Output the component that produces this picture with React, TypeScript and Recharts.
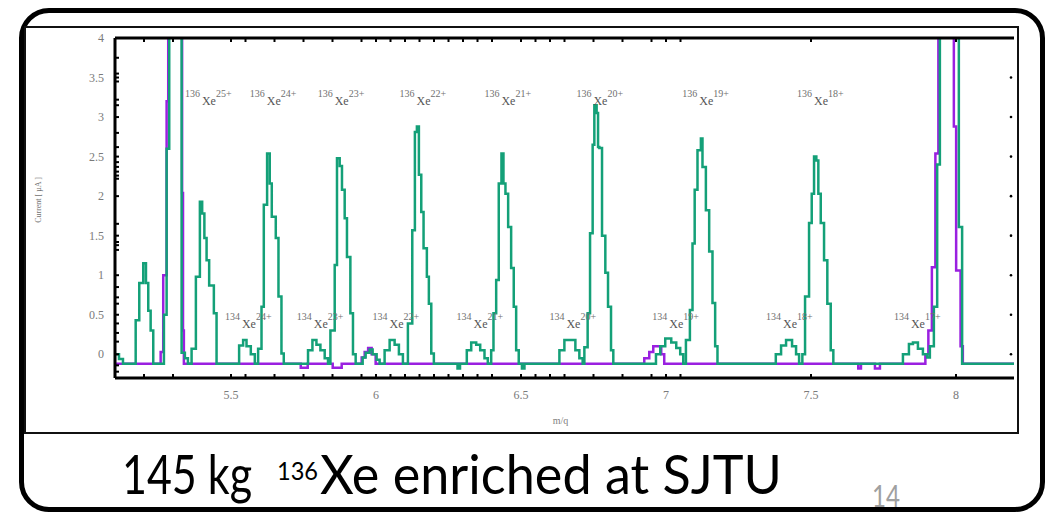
import { LineChart, Line, XAxis, YAxis, ReferenceDot } from 'recharts';

// green trace: m/q and beam current [uA] (step data, value holds until next m/q)
const greenMq = [
  5.1, 5.1138, 5.1275, 5.1713, 5.1837, 5.1975, 5.2068, 5.2147, 5.2229, 5.2319,
  5.2687, 5.278, 5.287, 5.3297, 5.341, 5.3514,
  5.3641, 5.3789, 5.3927, 5.4006, 5.4082, 5.4158, 5.4247, 5.4409, 5.4502,
  5.528, 5.5418, 5.5535, 5.5683, 5.5821,
  5.5935, 5.6052, 5.6131, 5.6245, 5.6337, 5.6406, 5.6544, 5.6637, 5.674, 5.682,
  5.7656, 5.7808, 5.7946, 5.8083, 5.8231, 5.8345,
  5.8428, 5.8576, 5.8655, 5.8748, 5.8827, 5.892, 5.8999, 5.9116, 5.9206, 5.9299,
  5.954, 5.9643, 5.9781, 5.9884, 6.0022, 6.0125,
  6.0297, 6.047, 6.0642, 6.079, 6.0928,
  6.11, 6.1251, 6.1341, 6.141, 6.1479, 6.1561, 6.164, 6.1754, 6.1823, 6.1906, 6.1995,
  6.2811, 6.2897,
  6.3131, 6.3283, 6.3455, 6.3593, 6.3741, 6.3855,
  6.3972, 6.4051, 6.4144, 6.4233, 6.4326, 6.4395, 6.4464, 6.4557, 6.466, 6.475, 6.4833, 6.4922,
  6.5033, 6.5119,
  6.6324, 6.6496, 6.6727, 6.6875, 6.7012, 6.7126,
  6.7185, 6.7298, 6.7381, 6.7471, 6.7529, 6.7608, 6.7657, 6.7702, 6.7794, 6.7908, 6.8001, 6.8104, 6.8183,
  6.9654, 6.9802, 6.9974, 7.0181, 7.0353, 7.049, 7.0594,
  7.0687, 7.0824, 7.0914, 7.0989, 7.1086, 7.1203, 7.1258, 7.1375, 7.1489, 7.1603, 7.1695, 7.1775,
  7.3786, 7.3968, 7.414, 7.4347, 7.4485, 7.4589,
  7.4702, 7.4795, 7.4933, 7.5025, 7.5105, 7.5184, 7.5253, 7.5336, 7.545, 7.5563, 7.568, 7.577,
  7.817, 7.8377, 7.8515, 7.8687, 7.8859, 7.9006,
  7.9099, 7.9237, 7.9351, 7.9444, 8.0098, 8.0211, 8.2,
];
const greenCurrent = [
  0.0, -0.06, -0.12, 0.43, 0.9, 1.15, 0.9, 0.55, 0.3, -0.12,
  0.5, 2.6, 5, 0.02, -0.05, -0.12,
  0.07, 0.98, 1.93, 1.78, 1.47, 1.19, 0.87, 0.52, -0.12,
  0.11, 0.18, 0.1, 0.0, -0.12,
  0.07, 0.6, 1.89, 2.54, 2.16, 1.74, 1.47, 0.73, 0.01, -0.12,
  0.05, 0.18, 0.12, 0.05, -0.05, -0.12,
  0.3, 1.13, 2.48, 2.38, 2.08, 1.72, 1.23, 0.52, 0.0, -0.12,
  -0.04, 0.02, 0.06, 0.0, -0.07, -0.12,
  0.05, 0.18, 0.12, 0.0, -0.12,
  0.39, 1.57, 2.81, 2.88, 2.27, 1.8, 1.34, 0.98, 0.64, 0.01, -0.12,
  -0.18, -0.12,
  0.05, 0.15, 0.12, 0.05, -0.05, -0.12,
  0.05, 0.52, 0.94, 2.16, 2.54, 2.16, 2.03, 1.61, 1.09, 0.6, 0.05, -0.12,
  -0.18, -0.12,
  0.05, 0.18, 0.18, 0.05, -0.05, -0.12,
  0.09, 0.52, 1.53, 2.65, 3.15, 3.05, 2.62, 2.61, 1.5, 1.03, 0.6, 0.05, -0.12,
  0.0, 0.1, 0.2, 0.15, 0.08, 0.0, -0.12,
  0.18, 0.56, 1.4, 2.08, 2.58, 2.73, 2.37, 1.82, 1.3, 0.65, 0.1, -0.12,
  0.0, 0.11, 0.18, 0.1, 0.0, -0.12,
  0.0, 0.73, 1.66, 2.03, 2.5, 2.45, 2.03, 1.66, 1.19, 0.64, 0.05, -0.12,
  0.0, 0.13, 0.15, 0.07, 0.0, -0.04,
  0.1, 0.6, 2.4, 5, 1.61, -0.12, -0.12,
];

// violet trace
const violetMq = [
  5.1, 5.2574, 5.2663, 5.278, 5.2835, 5.3314, 5.3345, 5.3375,
  5.7405, 5.7646, 5.8507, 5.8817,
  5.9506, 5.9609, 5.9729, 5.985, 5.9988,
  6.9251, 6.9423, 6.9561, 6.9733, 6.9836, 6.9939,
  7.663, 7.6723, 7.7205, 7.7377,
  7.8944, 7.9047, 7.9168, 7.9289, 7.9392, 7.9926, 8.0005, 8.0157, 8.0236, 8.2,
];
const violetCurrent = [
  -0.12, 0.03, 1.0, 3.2, 5, 2.04, 0.3, -0.12,
  -0.17, -0.12, -0.17, -0.12,
  -0.04, 0.03, 0.08, 0.0, -0.12,
  -0.05, 0.03, 0.1, 0.1, 0.0, -0.12,
  -0.18, -0.12, -0.18, -0.12,
  0.0, 0.3, 1.1, 2.54, 5, 2.88, 1.06, 0.1, -0.12, -0.12,
];

// isotope / charge-state annotations
const xe136LabelMq = [5.341, 5.565, 5.799, 6.081, 6.374, 6.691, 7.056, 7.452];
const xe136Charges = [25, 24, 23, 22, 21, 20, 19, 18];
const xe134LabelMq = [5.479, 5.727, 5.988, 6.278, 6.598, 6.953, 7.345, 7.786];
const xe134Charges = [24, 23, 22, 21, 20, 19, 18, 17];

const xMajorTicks = [5.5, 6, 6.5, 7, 7.5, 8];
const xMinorTicks = [
  5.2, 5.3, 5.55, 5.65, 5.75, 5.85, 5.95, 6.05, 6.1, 6.15, 6.2, 6.25, 6.3, 6.35,
  6.4, 6.55, 6.6, 6.65, 6.75, 6.85, 6.95, 7.05,
];
const yMajorTicks = [0, 0.5, 1, 1.5, 2, 2.5, 3, 3.5, 4];
const yMinorTicks = [
  3.75, 3.55, 3.45, 3.22, 3.15, 2.8, 2.62, 2.43, 2.37, 2.31, 2.26, 2.22, 1.65,
  1.42, 1.38, 1.32, 0.85, 0.72, 0.64, 0.39, 0.27, 0.16, -0.14, -0.22,
];

const greenData = greenMq.map((mq, i) => ({ mq, current: greenCurrent[i] }));
const violetData = violetMq.map((mq, i) => ({ mq, current: violetCurrent[i] }));

const GREEN = '#14a078';
const VIOLET = '#9a20e0';
const TICK_FONT = '"Liberation Serif", "DejaVu Serif", serif';
const CAPTION_FONT = "Lato, 'Open Sans', sans-serif";

const isMajor = (list: number[], v: number) => list.some((m) => Math.abs(m - v) < 1e-9);

const BottomTick = ({ x, y, payload }: any) => (
  <g>
    <line x1={x} y1={y} x2={x} y2={y - 4} stroke="#000" strokeWidth={2} />
    {isMajor(xMajorTicks, payload.value) && (
      <text x={x} y={y + 21} textAnchor="middle" fontSize={12} fill="#7a7a7a" fontFamily={TICK_FONT}>
        {payload.value}
      </text>
    )}
  </g>
);

const TopTick = ({ x, y }: any) => (
  <line x1={x} y1={y} x2={x} y2={y + 4} stroke="#000" strokeWidth={2} />
);

const LeftTick = ({ x, y, payload }: any) => (
  <g>
    <line x1={x} y1={y} x2={x + 4} y2={y} stroke="#000" strokeWidth={2} />
    {isMajor(yMajorTicks, payload.value) && (
      <text x={x - 11} y={y + 4} textAnchor="end" fontSize={12} fill="#7a7a7a" fontFamily={TICK_FONT}>
        {payload.value}
      </text>
    )}
  </g>
);

const RightTick = ({ x, y }: any) => <circle cx={x - 3} cy={y} r={1.3} fill="#000" />;

const IonLabel = ({ cx, cy, mass, charge }: any) => (
  <text x={cx} y={cy} fontFamily={TICK_FONT} fill="#707070" fontSize={10}>
    {mass}
    <tspan dx={2} dy={8} fontSize={12} fill="#555">
      Xe
    </tspan>
    <tspan dy={-8} fontSize={10} fill="#707070">
      {charge}+
    </tspan>
  </text>
);

// caption words: narrow face, stretched vertically
const CaptionText = ({ x, y, size, width, children }: any) => (
  <g transform={`translate(${x} ${y}) scale(1 1.23)`}>
    <text x={0} y={0} fontSize={size} textLength={width} lengthAdjust="spacingAndGlyphs">
      {children}
    </text>
  </g>
);

const Spectrum = () => (
  <LineChart
    width={992}
    height={405}
    margin={{ top: 10, right: 2, bottom: 53, left: 89 }}
    style={{ position: 'absolute', left: 25, top: 27 }}
  >
    <XAxis
      dataKey="mq"
      type="number"
      domain={[5.1, 8.2]}
      allowDataOverflow
      ticks={[...xMajorTicks, ...xMinorTicks].sort((a, b) => a - b)}
      interval={0}
      height={1}
      tickSize={0}
      tickMargin={0}
      tickLine={false}
      tick={<BottomTick />}
      axisLine={{ stroke: '#000', strokeWidth: 3 }}
      label={{
        content: ({ viewBox }: any) => (
          <text
            x={viewBox.x + viewBox.width / 2 - 4}
            y={viewBox.y + 46}
            textAnchor="middle"
            fontSize={10}
            fill="#808080"
            fontFamily={TICK_FONT}
          >
            m/q
          </text>
        ),
      }}
    />
    <XAxis
      xAxisId="top"
      orientation="top"
      dataKey="mq"
      type="number"
      domain={[5.1, 8.2]}
      allowDataOverflow
      ticks={[...xMajorTicks, ...xMinorTicks].sort((a, b) => a - b)}
      interval={0}
      height={1}
      tickSize={0}
      tickMargin={0}
      tickLine={false}
      tick={<TopTick />}
      axisLine={{ stroke: '#000', strokeWidth: 3 }}
    />
    <YAxis
      type="number"
      domain={[-0.3, 4]}
      allowDataOverflow
      ticks={[...yMajorTicks, ...yMinorTicks].sort((a, b) => a - b)}
      interval={0}
      width={1}
      tickSize={0}
      tickMargin={0}
      tickLine={false}
      tick={<LeftTick />}
      axisLine={{ stroke: '#000', strokeWidth: 3 }}
      label={{
        content: ({ viewBox }: any) => {
          const lx = viewBox.x - 73;
          const ly = viewBox.y + viewBox.height / 2 - 8;
          return (
            <text
              x={lx}
              y={ly}
              transform={`rotate(-90 ${lx} ${ly})`}
              textAnchor="middle"
              fontSize={8}
              fill="#707070"
              fontFamily={TICK_FONT}
            >
              Current [ µA ]
            </text>
          );
        },
      }}
    />
    <YAxis
      yAxisId="right"
      orientation="right"
      type="number"
      domain={[-0.3, 4]}
      allowDataOverflow
      ticks={yMajorTicks.slice(0, -1)}
      interval={0}
      width={1}
      tickSize={0}
      tickMargin={0}
      tickLine={false}
      axisLine={false}
      tick={<RightTick />}
    />
    <Line
      data={violetData}
      dataKey="current"
      type="stepAfter"
      stroke={VIOLET}
      strokeWidth={2.5}
      dot={false}
      isAnimationActive={false}
    />
    <Line
      data={greenData}
      dataKey="current"
      type="stepAfter"
      stroke={GREEN}
      strokeWidth={2.5}
      dot={false}
      isAnimationActive={false}
    />
    {xe136LabelMq.map((mq, i) => (
      <ReferenceDot
        key={`h${i}`}
        x={mq}
        y={3.25}
        r={0}
        shape={(p: any) => <IonLabel cx={p.cx} cy={p.cy} mass={136} charge={xe136Charges[i]} />}
      />
    ))}
    {xe134LabelMq.map((mq, i) => (
      <ReferenceDot
        key={`l${i}`}
        x={mq}
        y={0.43}
        r={0}
        shape={(p: any) => <IonLabel cx={p.cx} cy={p.cy} mass={134} charge={xe134Charges[i]} />}
      />
    ))}
  </LineChart>
);

export default function App() {
  return (
    <div style={{ position: 'absolute', left: 0, top: 0, width: 1048, height: 516, background: '#fff', overflow: 'hidden' }}>
      <div
        style={{
          position: 'absolute',
          left: 19,
          top: 8,
          width: 1016,
          height: 494,
          border: '5px solid #000',
          borderRadius: 30,
        }}
      />
      <div
        style={{
          position: 'absolute',
          left: 24,
          top: 26,
          width: 991,
          height: 404,
          border: '2px solid #111',
        }}
      />
      <Spectrum />
      <svg width={1048} height={516} style={{ position: 'absolute', left: 0, top: 0 }}>
        <g fontFamily={CAPTION_FONT} fill="#000">
          <CaptionText x={122} y={494} size={44} width={130}>
            145 kg
          </CaptionText>
          <CaptionText x={277} y={480} size={20} width={41}>
            136
          </CaptionText>
          <CaptionText x={320} y={494} size={44} width={462}>
            Xe enriched at SJTU
          </CaptionText>
        </g>
        <text
          x={872}
          y={507}
          fontFamily={CAPTION_FONT}
          fontSize={30}
          fill="#a0a0a0"
          textLength={28}
          lengthAdjust="spacingAndGlyphs"
        >
          14
        </text>
      </svg>
    </div>
  );
}
